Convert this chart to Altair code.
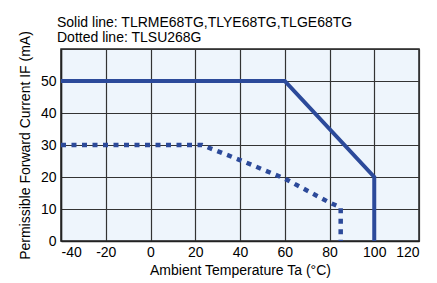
import altair as alt
import pandas as pd

# Solid line: TLRME68TG, TLYE68TG, TLGE68TG
solid_x = [-40, 60, 100, 100]
solid_y = [50, 50, 20, 0]
# Dotted line: TLSU268G
dot_x = [-40, 23, 40, 60, 80, 85, 85]
dot_y = [30, 30, 25.3, 19.5, 12, 10.5, 0]

x_ticks = [-40, -20, 0, 20, 40, 60, 80, 100, 120]
y_ticks = [0, 10, 20, 30, 40, 50, 60]

line_color = "#2c4a9a"
font = "Liberation Sans"

solid = pd.DataFrame({"x": solid_x, "y": solid_y, "o": range(len(solid_x))})
dotted = pd.DataFrame({"x": dot_x, "y": dot_y, "o": range(len(dot_x))})

xenc = alt.X("x:Q", scale=alt.Scale(domain=[-40, 120], nice=False, zero=False),
             axis=alt.Axis(values=x_ticks, title="Ambient Temperature Ta (°C)",
                           labelExpr="datum.value < 0 ? '-' + abs(datum.value) : datum.label"))
yenc = alt.Y("y:Q", scale=alt.Scale(domain=[0, 60], nice=False),
             axis=alt.Axis(values=y_ticks, title="Permissible Forward Current IF (mA)",
                           labelExpr="datum.value == 60 ? '' : datum.label"))

l1 = alt.Chart(solid).mark_line(color=line_color, strokeWidth=4, strokeCap="butt",
                                strokeJoin="miter").encode(x=xenc, y=yenc, order="o:Q")
l2 = alt.Chart(dotted).mark_line(color=line_color, strokeWidth=4.5, strokeDash=[5, 5.5],
                                 strokeCap="butt").encode(x=xenc, y=yenc, order="o:Q")

chart = (l1 + l2).properties(
    width=358, height=192,
    title=alt.TitleParams(
        text="Solid line: TLRME68TG,TLYE68TG,TLGE68TG",
        subtitle="Dotted line: TLSU268G",
        anchor="start", frame="group", font=font, fontSize=14, fontWeight="normal",
        color="#000", subtitleFont=font, subtitleFontSize=14, subtitleColor="#000",
        subtitlePadding=1, offset=-14, dx=-4),
    padding={"left": 53, "top": 41, "right": 8, "bottom": 40},
    autosize=alt.AutoSizeParams(type="none"),
).configure_view(
    fill="#eef5fc", stroke="#222", strokeWidth=1.5
).configure_axis(
    labelFont=font, labelFontSize=14, labelColor="#000",
    titleFont=font, titleFontSize=14, titleColor="#000", titleFontWeight="normal",
    gridColor="#333", gridOpacity=1, gridWidth=1.2,
    domainColor="#222", domainWidth=1.5,
    tickSize=0,
).configure_axisY(labelPadding=5, titlePadding=8).configure_axisX(labelPadding=4, titlePadding=4)

chart.save("out.html", embed_options={"renderer": "svg", "actions": False})
